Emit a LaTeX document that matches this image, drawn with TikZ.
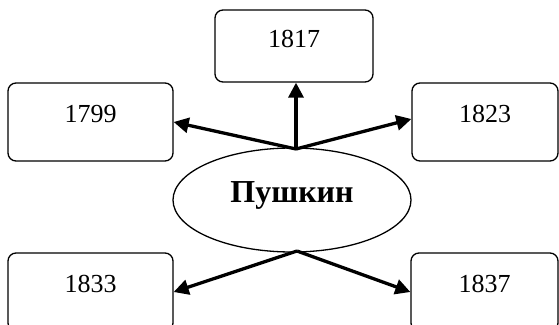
\documentclass[tikz,border=0pt]{standalone}
\usepackage{fontspec}
\setmainfont{Liberation Serif}
\usetikzlibrary{arrows.meta,shapes.geometric,calc}
\tikzset{
  yearbox/.style={draw, line width=1.3pt, rounded corners=8pt, inner sep=0pt,
    font=\fontsize{26}{30}\selectfont, text height=18pt, text depth=18pt},
  arr/.style={line width=3.3pt, -{Triangle[length=15pt,width=15pt]}},
}
\begin{document}
\begin{tikzpicture}[x=1pt,y=-1pt]
\useasboundingbox (0,0) rectangle (559,324);
\node[yearbox, minimum width=158pt, minimum height=72pt, text depth=16pt] (b1817) at (294,46) {1817};
\node[yearbox, minimum width=165pt, minimum height=78pt] (b1799) at (90.5,122) {1799};
\node[yearbox, minimum width=146pt, minimum height=78pt] (b1823) at (485,122) {1823};
\node[yearbox, minimum width=165pt, minimum height=78pt] (b1833) at (90.5,292) {1833};
\node[yearbox, minimum width=147pt, minimum height=78pt] (b1837) at (484.5,292) {1837};
\node[ellipse, draw, line width=1.3pt, inner sep=0pt, minimum width=238pt, minimum height=104pt,
  font=\fontsize{32}{36}\selectfont\bfseries, text height=16pt, text depth=12pt] (e) at (292,200) {Пушкин};
\coordinate (top) at (296,149);
\coordinate (bot) at (297,251);
\draw[arr] (top) -- (top |- b1817.south);
\draw[arr] (top) -- (b1799.east);
\draw[arr] (top) -- ($(b1823.west)+(0,-3)$);
\draw[arr] (bot) -- (b1833.east);
\draw[arr] (bot) -- (b1837.west);
\end{tikzpicture}
\end{document}
